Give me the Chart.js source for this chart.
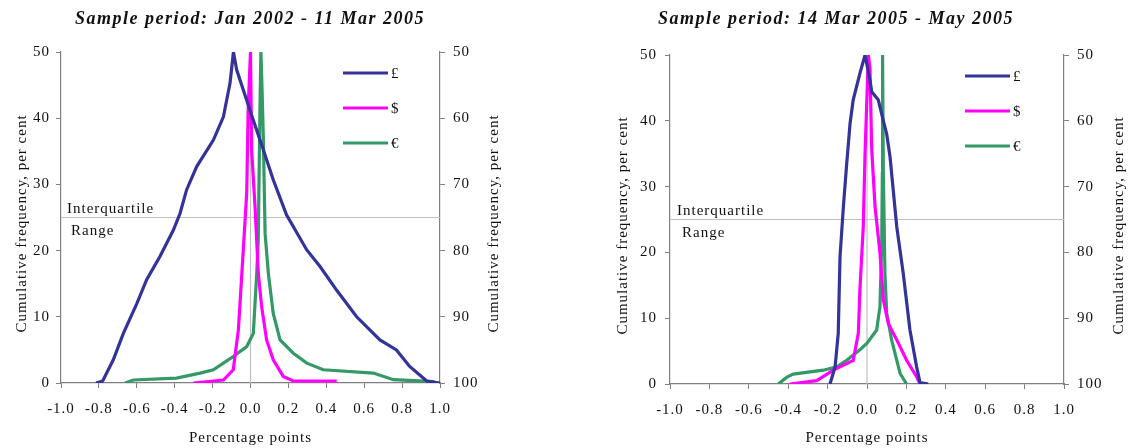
<!DOCTYPE html>
<html lang="en">
<head>
<meta charset="UTF-8" />
<title>Cumulative frequency of changes</title>
<script src="https://cdn.jsdelivr.net/npm/chart.js"></script>
<style>
  body { margin: 0; background: #fff; width: 1130px; height: 448px; overflow: hidden; position: relative; }
  .panel { position: absolute; top: 0; height: 448px; }
  #left { left: 0; width: 560px; }
  #right { left: 560px; width: 570px; }
</style>
</head>
<body>
<div class="panel" id="left"><canvas id="chartLeft"></canvas></div>
<div class="panel" id="right"><canvas id="chartRight"></canvas></div>
<script>
// ---- data (folded cumulative frequency) ----
const currencies = ['£', '$', '€'];
const titles = ['Sample period: Jan 2002 - 11 Mar 2005', 'Sample period: 14 Mar 2005 - May 2005'];
const yTitle = 'Cumulative frequency, per cent';

const xTicks = [-1.0, -0.8, -0.6, -0.4, -0.2, 0.0, 0.2, 0.4, 0.6, 0.8, 1.0];
const yTicks = [0, 10, 20, 30, 40, 50];
const y2Ticks = [50, 60, 70, 80, 90, 100];
const medianX = 0;
const quartileY = 25;

// left panel: Jan 2002 - 11 Mar 2005
const leftGbpX = [-0.815, -0.78, -0.724, -0.671, -0.60, -0.548, -0.478, -0.407, -0.372, -0.337, -0.284, -0.196, -0.143, -0.108, -0.09, -0.073, -0.02, 0.015, 0.068, 0.12, 0.19, 0.297, 0.367, 0.455, 0.56, 0.683, 0.77, 0.84, 0.93, 1.0];
const leftGbpY = [0, 0.3, 3.5, 7.5, 12, 15.6, 19.1, 23.1, 25.6, 29.2, 32.7, 36.7, 40.2, 45.3, 50, 47.3, 42.7, 39.7, 35.2, 30.7, 25.4, 20.1, 17.6, 14.0, 10.0, 6.5, 5.0, 2.5, 0.3, 0];
const leftUsdX = [-0.302, -0.143, -0.091, -0.064, -0.038, -0.02, -0.012, 0.0, 0.006, 0.024, 0.041, 0.059, 0.085, 0.12, 0.173, 0.226, 0.455];
const leftUsdY = [0, 0.45, 2.0, 8.0, 20.1, 28.7, 41.7, 50, 35.2, 26.6, 16.6, 11.5, 6.5, 3.5, 1.0, 0.3, 0.3];
const leftEurX = [-0.662, -0.618, -0.39, -0.266, -0.196, -0.143, -0.091, -0.02, 0.015, 0.033, 0.041, 0.05, 0.055, 0.06, 0.068, 0.077, 0.094, 0.12, 0.156, 0.226, 0.297, 0.384, 0.648, 0.754, 0.97];
const leftEurY = [0, 0.45, 0.75, 1.5, 2.0, 3.0, 4.0, 5.5, 7.5, 16.6, 21.6, 41.7, 50, 45.3, 36.7, 22.6, 16.6, 10.5, 6.5, 4.5, 3.0, 2.0, 1.5, 0.5, 0.2];

// right panel: 14 Mar 2005 - May 2005
const rightGbpX = [-0.188, -0.162, -0.146, -0.137, -0.12, -0.103, -0.086, -0.07, -0.036, -0.01, 0.015, 0.024, 0.057, 0.083, 0.1, 0.117, 0.125, 0.151, 0.184, 0.218, 0.252, 0.269, 0.311];
const rightGbpY = [0, 2.6, 7.7, 19.3, 26.9, 33.5, 39.6, 43.2, 47.2, 50, 46.2, 44.4, 43.2, 40, 38, 34.5, 32.0, 23.9, 16.8, 8.2, 2.6, 0.2, 0];
const rightUsdX = [-0.391, -0.255, -0.171, -0.07, -0.044, -0.036, -0.019, -0.01, 0.007, 0.015, 0.024, 0.041, 0.066, 0.083, 0.108, 0.151, 0.201, 0.252, 0.269];
const rightUsdY = [0, 0.5, 2.1, 3.6, 7.7, 14.3, 23.9, 35, 50, 48, 35.6, 26.9, 19.9, 12.8, 9.2, 6.7, 3.6, 1.1, 0];
const rightEurX = [-0.45, -0.408, -0.374, -0.222, -0.154, -0.103, -0.036, 0.0, 0.049, 0.066, 0.075, 0.078, 0.079, 0.083, 0.091, 0.1, 0.125, 0.168, 0.201];
const rightEurY = [0, 1.0, 1.5, 2.1, 2.6, 3.6, 5.2, 6.2, 8.2, 11.8, 21.9, 32, 50, 32, 16.8, 10.8, 6.7, 1.6, 0];

// ---- styling ----
const colours = ['#333399', '#ff00ff', '#339966'];
const serif = "'Liberation Serif', 'Times New Roman', serif";
const textColour = '#111';
const axisColour = '#808080';

function series(xs, ys) {
  return xs.map((x, i) => ({ x: x, y: ys[i] }));
}

function fmt(v) {
  if (Math.abs(v) < 1e-9) return '0.0';
  return v.toFixed(1);
}

function sideTitle(ctx, x, y) {
  ctx.save();
  ctx.translate(x, y);
  ctx.rotate(-Math.PI / 2);
  ctx.textAlign = 'center';
  ctx.fillText(yTitle, 0, 0);
  ctx.restore();
}

// draws title, in-plot legend, both axis titles and the interquartile labels
const decor = {
  id: 'decor',
  beforeLayout(chart) { chart.ctx.letterSpacing = '1px'; },
  beforeDraw(chart) { chart.ctx.letterSpacing = '1px'; },
  afterDatasetsDraw(chart, args, opts) {
    const ctx = chart.ctx;
    const a = chart.chartArea;
    const midY = (a.top + a.bottom) / 2 + 6;
    ctx.save();
    ctx.letterSpacing = '1px';
    ctx.fillStyle = textColour;
    ctx.textBaseline = 'middle';
    ctx.textAlign = 'left';
    ctx.font = '15px ' + serif;
    // interquartile labels
    ctx.fillText('Interquartile', a.left + opts.iqrDx, opts.iqrY1);
    ctx.fillText('Range', a.left + opts.iqrDx2, opts.iqrY2);
    // legend
    currencies.forEach((c, i) => {
      const y = a.top + opts.legendDy + i * opts.legendGap;
      const x = a.left + opts.legendDx;
      ctx.strokeStyle = colours[i];
      ctx.lineWidth = 3;
      ctx.beginPath();
      ctx.moveTo(x, y);
      ctx.lineTo(x + 45, y);
      ctx.stroke();
      ctx.fillText(c, x + 48, y + 1);
    });
    // axis titles, both reading bottom to top
    sideTitle(ctx, a.left - opts.yTitleDx, midY);
    sideTitle(ctx, a.right + opts.y2TitleDx, midY);
    // panel title
    ctx.letterSpacing = '1.5px';
    ctx.font = 'italic bold 18px ' + serif;
    ctx.textAlign = 'center';
    ctx.fillText(opts.title, opts.titleX, opts.titleY);
    ctx.restore();
  }
};

function makeChart(id, data, geo) {
  const datasets = data.map((pts, i) => ({
    label: currencies[i],
    data: pts,
    borderColor: colours[i],
    borderWidth: 3.2,
    pointRadius: 0,
    tension: 0,
    fill: false,
    order: 1
  }));
  datasets.push({
    label: 'median',
    data: series([medianX, medianX], [yTicks[0], yTicks[yTicks.length - 1]]),
    borderColor: '#c0c0c0', borderWidth: 1.2, pointRadius: 0, order: 10
  });
  datasets.push({
    label: 'quartile',
    data: series([xTicks[0], xTicks[xTicks.length - 1]], [quartileY, quartileY]),
    borderColor: '#c0c0c0', borderWidth: 1.2, pointRadius: 0, order: 10
  });

  const tickFont = { family: serif, size: 15 };
  const titleFont = { family: serif, size: 15 };
  const gridOpts = { display: true, drawOnChartArea: false, drawTicks: true, tickLength: 5, color: axisColour };
  const borderOpts = { display: true, color: axisColour, width: 1.2 };

  return new Chart(document.getElementById(id), {
    type: 'line',
    data: { datasets: datasets },
    plugins: [decor],
    options: {
      responsive: true,
      maintainAspectRatio: false,
      animation: false,
      layout: { padding: { left: 0, top: geo.top, right: geo.padRight, bottom: 0 } },
      plugins: {
        legend: { display: false },
        tooltip: { enabled: false },
        decor: geo.decor
      },
      scales: {
        x: {
          type: 'linear', min: -1, max: 1,
          afterBuildTicks: s => { s.ticks = xTicks.map(v => ({ value: v })); },
          afterFit: s => { s.height = geo.xHeight; },
          ticks: { font: tickFont, color: textColour, padding: 12, maxRotation: 0, autoSkip: false, callback: v => fmt(v) },
          grid: gridOpts, border: borderOpts,
          title: { display: true, text: 'Percentage points', font: titleFont, color: textColour, padding: { top: 0, bottom: 1 } }
        },
        y: {
          type: 'linear', position: 'left', min: 0, max: 50,
          afterBuildTicks: s => { s.ticks = yTicks.map(v => ({ value: v })); },
          afterFit: s => { s.width = geo.yWidth; },
          ticks: { font: tickFont, color: textColour, padding: geo.yPad },
          grid: gridOpts, border: borderOpts,
          title: { display: false }
        },
        y2: {
          type: 'linear', position: 'right', min: 50, max: 100, reverse: true,
          afterBuildTicks: s => { s.ticks = y2Ticks.map(v => ({ value: v })); },
          afterFit: s => { s.width = geo.y2Width; },
          ticks: { font: tickFont, color: textColour, padding: 8 },
          grid: gridOpts, border: borderOpts,
          title: { display: false }
        }
      }
    }
  });
}

makeChart('chartLeft',
  [series(leftGbpX, leftGbpY), series(leftUsdX, leftUsdY), series(leftEurX, leftEurY)],
  {
    top: 52, padRight: 50, xHeight: 65, yWidth: 61, y2Width: 70, yPad: 6,
    decor: { title: titles[0], titleX: 250, titleY: 19, legendDx: 282, legendDy: 21, legendGap: 35,
             iqrDx: 6, iqrY1: 209, iqrDx2: 10, iqrY2: 231, yTitleDx: 39, y2TitleDx: 54 }
  });

makeChart('chartRight',
  [series(rightGbpX, rightGbpY), series(rightUsdX, rightUsdY), series(rightEurX, rightEurY)],
  {
    top: 55, padRight: 0, xHeight: 64, yWidth: 110, y2Width: 66, yPad: 8,
    decor: { title: titles[1], titleX: 276, titleY: 19, legendDx: 295, legendDy: 21, legendGap: 35,
             iqrDx: 7, iqrY1: 211, iqrDx2: 12, iqrY2: 233, yTitleDx: 47, y2TitleDx: 55 }
  });
</script>
</body>
</html>
